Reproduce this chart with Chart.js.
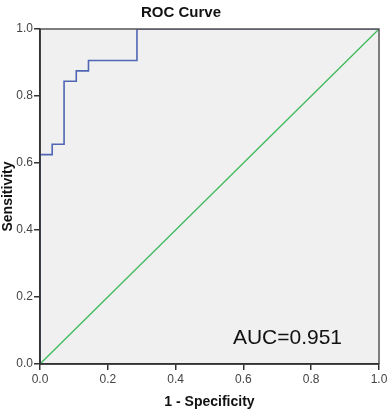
<!DOCTYPE html>
<html>
<head>
<meta charset="utf-8">
<script src="https://cdn.jsdelivr.net/npm/chart.js@4/dist/chart.umd.min.js"></script>
<style>
  html, body { margin: 0; padding: 0; background: #fff; }
  #wrap { width: 392px; height: 416px; position: relative; }
</style>
</head>
<body>
<div id="wrap"><canvas id="chart"></canvas></div>
<script>
// ROC corner points (1 - specificity, sensitivity), stepped
const fpr = [0, 0, 0.036, 0.071, 0.107, 0.143, 0.286, 1];
const tpr = [0, 0.625, 0.656, 0.844, 0.875, 0.906, 1, 1];
const refX = [0, 1];
const refY = [0, 1];
const tickValues = [0, 0.2, 0.4, 0.6, 0.8, 1.0];
const chartTitle = 'ROC Curve';
const aucLabel = 'AUC=0.951';

const font = "'Liberation Sans', Arial, sans-serif";

const plotBackground = {
    id: 'plotBackground',
    beforeDraw(chart) {
        const a = chart.chartArea;
        const ctx = chart.ctx;
        ctx.save();
        ctx.fillStyle = '#f0f0f0';
        ctx.fillRect(a.left, a.top, a.right - a.left, a.bottom - a.top);
        ctx.restore();
    },
    afterDraw(chart) {
        const a = chart.chartArea;
        const ctx = chart.ctx;
        ctx.save();
        // top and right frame
        ctx.strokeStyle = '#555';
        ctx.lineWidth = 1.5;
        ctx.beginPath();
        ctx.moveTo(a.left, a.top);
        ctx.lineTo(a.right, a.top);
        ctx.lineTo(a.right, a.bottom);
        ctx.stroke();
        // axis lines on top of the curve
        ctx.strokeStyle = '#333';
        ctx.lineWidth = 1.6;
        ctx.beginPath();
        ctx.moveTo(a.left, a.top);
        ctx.lineTo(a.left, a.bottom);
        ctx.lineTo(a.right, a.bottom);
        ctx.stroke();

        // title
        ctx.fillStyle = '#111';
        ctx.font = 'bold 15px ' + font;
        ctx.textAlign = 'center';
        ctx.textBaseline = 'alphabetic';
        ctx.fillText(chartTitle, 181, 17);

        // AUC label
        const x = chart.scales.x, y = chart.scales.y;
        ctx.font = '21px ' + font;
        ctx.textAlign = 'right';
        ctx.fillText(aucLabel, x.getPixelForValue(0.891), y.getPixelForValue(0.06));
        ctx.restore();
    }
};

new Chart(document.getElementById('chart'), {
    type: 'scatter',
    data: {
        datasets: [{
            label: 'ROC',
            data: fpr.map((v, i) => ({ x: v, y: tpr[i] })),
            showLine: true,
            stepped: 'before',
            borderColor: '#5066b4',
            borderWidth: 1.6,
            pointRadius: 0,
            fill: false
        }, {
            label: 'Reference',
            data: refX.map((v, i) => ({ x: v, y: refY[i] })),
            showLine: true,
            borderColor: '#3fba5c',
            borderWidth: 1.3,
            pointRadius: 0,
            fill: false
        }]
    },
    options: {
        responsive: true,
        maintainAspectRatio: false,
        animation: false,
        layout: { padding: { top: 29, right: 13, left: 0, bottom: 0 } },
        plugins: {
            legend: { display: false },
            title: { display: false },
            tooltip: { enabled: false }
        },
        scales: {
            x: {
                type: 'linear',
                min: 0,
                max: 1,
                afterFit: s => { s.height = 52; },
                afterBuildTicks: s => { s.ticks = tickValues.map(v => ({ value: v })); },
                ticks: {
                    color: '#444',
                    padding: 2,
                    maxRotation: 0,
                    font: { family: font, size: 12 },
                    callback: v => v.toFixed(1)
                },
                grid: { drawOnChartArea: false, drawTicks: true, tickLength: 6, color: '#333', lineWidth: 1.5 },
                border: { color: '#333', width: 1.6 },
                title: {
                    display: true,
                    text: '1 - Specificity',
                    color: '#111',
                    padding: { top: 0, bottom: 5 },
                    font: { family: font, size: 14, weight: 'bold' }
                }
            },
            y: {
                type: 'linear',
                min: 0,
                max: 1,
                afterFit: s => { s.width = 40; },
                afterBuildTicks: s => { s.ticks = tickValues.map(v => ({ value: v })); },
                ticks: {
                    color: '#444',
                    padding: 1,
                    font: { family: font, size: 12 },
                    callback: v => v.toFixed(1)
                },
                grid: { drawOnChartArea: false, drawTicks: true, tickLength: 6, color: '#333', lineWidth: 1.5 },
                border: { color: '#333', width: 1.6 },
                title: {
                    display: true,
                    text: 'Sensitivity',
                    color: '#111',
                    padding: { top: 0, bottom: 0 },
                    font: { family: font, size: 14, weight: 'bold' }
                }
            }
        }
    },
    plugins: [plotBackground]
});
</script>
</body>
</html>
